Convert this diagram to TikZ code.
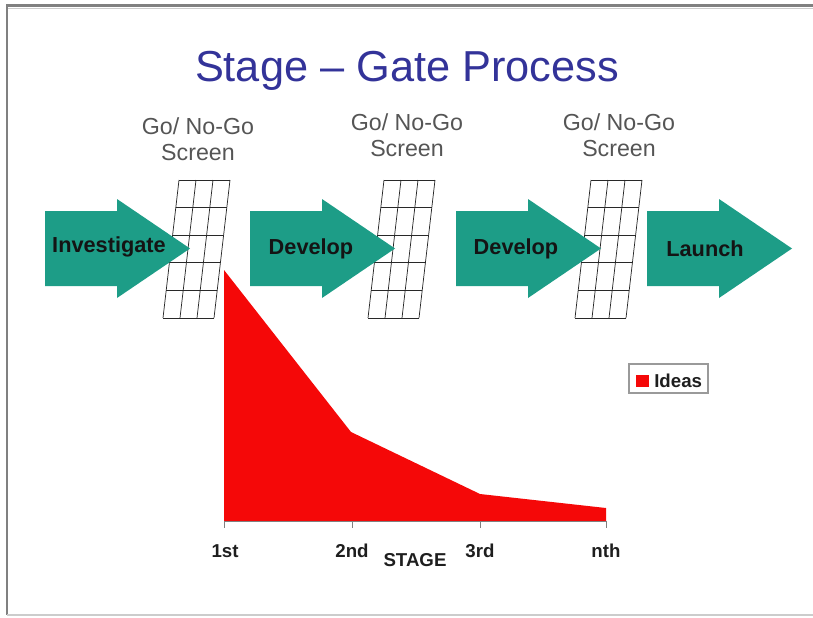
\documentclass[tikz,border=0pt]{standalone}
\usepackage{fontspec}
\setmainfont{Liberation Sans}
\definecolor{gatetitle}{RGB}{51,51,153}
\definecolor{stageteal}{RGB}{29,157,135}
\definecolor{ideared}{RGB}{245,8,8}
\definecolor{screengray}{RGB}{85,85,85}
\definecolor{framegray}{RGB}{128,128,128}
\begin{document}
\begin{tikzpicture}[x=0.75pt,y=0.75pt,yscale=-1,xscale=1,
  stagearrow/.style={fill=stageteal,draw=none},
  stagelabel/.style={inner sep=0.75pt,font=\fontsize{16.3}{19}\selectfont\bfseries,text={rgb,255:red,20;green,20;blue,20}},
  screenlabel/.style={inner sep=0.75pt,align=center,text=screengray,font=\fontsize{17.4}{19.5}\selectfont},
  gateline/.style={draw={rgb,255:red,40;green,40;blue,40},line width=0.55pt},
  axislabel/.style={inner sep=0.75pt,font=\fontsize{14}{16}\selectfont\bfseries,text={rgb,255:red,30;green,30;blue,30}}]
\useasboundingbox (0,0) rectangle (813,617);

%Shape: Frame
\draw [framegray,line width=2.25pt] (6,6) -- (813,6) ;
\draw [framegray!40,line width=0.75pt] (8,8.5) -- (813,8.5) ;
\draw [framegray,line width=1.5pt] (7,6) -- (7,615) ;
\draw [framegray!40,line width=1.2pt] (7,615) -- (813,615) ;

% Text Node
\node (title) at (407,71) [inner sep=0.75pt,text=gatetitle,font=\fontsize{32.5}{38}\selectfont] {Stage \textendash{} Gate Process};

% Text Node
\node (screen1) at (198,139) [screenlabel] {Go/ No-Go\\Screen};
% Text Node
\node (screen2) at (407,135) [screenlabel] {Go/ No-Go\\Screen};
% Text Node
\node (screen3) at (619,135) [screenlabel] {Go/ No-Go\\Screen};

%Shape: Gate grids
\foreach \gx in {163,368,575} {
  \foreach \i in {0,1,2,3}
    \draw [gateline] (\gx+17*\i+16,180) -- (\gx+17*\i,318) ;
  \foreach \j in {0,1,2,3,4,5}
    \draw [gateline] (\gx+16-16*\j/5,180+27.6*\j) -- (\gx+67-16*\j/5,180+27.6*\j) ;
}

%Shape: Stage arrows
\foreach \ax in {45,250,456,647}
  \fill [stagearrow] (\ax,211) -- (\ax+72,211) -- (\ax+72,199) -- (\ax+145,248.5) -- (\ax+72,298) -- (\ax+72,286) -- (\ax,286) -- cycle ;

% Text Node
\node (investigate) at (109,247) [stagelabel] {Investigate};
% Text Node
\node (develop1) at (311,249) [stagelabel] {Develop};
% Text Node
\node (develop2) at (516,249) [stagelabel] {Develop};
% Text Node
\node (launch) at (705,249) [stagelabel] {Launch};

%Shape: Ideas area
\fill [ideared] (224,270) -- (351,432) -- (480,494) -- (606,508) -- (606,521) -- (224,521) -- cycle ;
%Straight Lines: axis
\draw [framegray,line width=0.75pt] (224,521) -- (606,521) ;
\foreach \tx in {224,352,480,606}
  \draw [framegray,line width=0.75pt] (\tx,521) -- (\tx,528) ;

% Text Node
\node (first) at (225,551) [axislabel] {1st};
% Text Node
\node (second) at (352,551) [axislabel] {2nd};
% Text Node
\node (third) at (480,551) [axislabel] {3rd};
% Text Node
\node (nth) at (606,551) [axislabel] {nth};
% Text Node
\node (stage) at (415,560) [axislabel] {STAGE};

%Shape: Legend
\draw [framegray!80,line width=0.9pt] (629,364) rectangle (708,393) ;
\fill [ideared] (636,375) rectangle (649,387) ;
% Text Node
\node (ideas) at (653,380.5) [axislabel,anchor=west] {Ideas};

\end{tikzpicture}
\end{document}
